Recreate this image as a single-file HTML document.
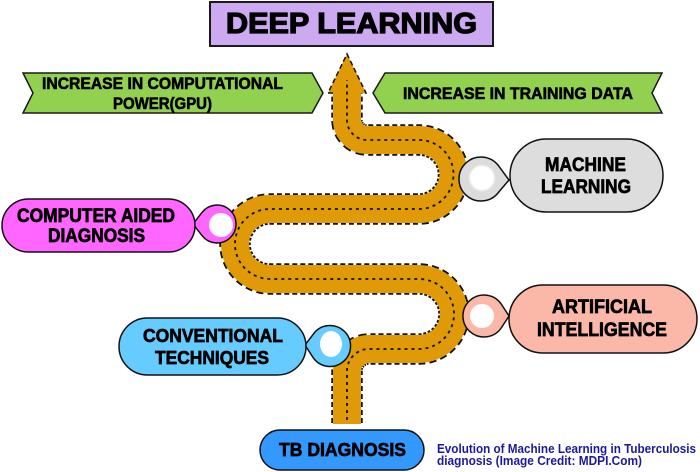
<!DOCTYPE html>
<html>
<head>
<meta charset="utf-8">
<style>
  html,body{margin:0;padding:0;background:#fff;}
  svg{display:block;}
  .t{font-family:"Liberation Sans",Arial,sans-serif;font-weight:bold;fill:#000;stroke:#000;}
</style>
</head>
<body>
<svg width="700" height="472" viewBox="0 0 700 472" xmlns="http://www.w3.org/2000/svg">
  <rect x="0" y="0" width="700" height="472" fill="#fff"/>

  <!-- Title -->
  <rect x="210" y="2" width="283" height="44" fill="#CDA9F2" stroke="#1a1a1a" stroke-width="2"/>
  <text class="t" x="226" y="33" font-size="29" stroke-width="1.3" textLength="251" lengthAdjust="spacingAndGlyphs">DEEP LEARNING</text>

  <!-- Green banners -->
  <polygon points="23,73 312,73 323,93 312,113 23,113 33,93" fill="#92D050" stroke="#1a1a1a" stroke-width="1.5"/>
  <text class="t" x="42" y="89" font-size="16.5" stroke-width="0.6" textLength="241" lengthAdjust="spacingAndGlyphs">INCREASE IN COMPUTATIONAL</text>
  <text class="t" x="113" y="109" font-size="16.5" stroke-width="0.6" textLength="99" lengthAdjust="spacingAndGlyphs">POWER(GPU)</text>

  <polygon points="385,73 662,73 652,93 662,113 385,113 373,93" fill="#92D050" stroke="#1a1a1a" stroke-width="1.5"/>
  <text class="t" x="403" y="99" font-size="16.5" stroke-width="0.6" textLength="230" lengthAdjust="spacingAndGlyphs">INCREASE IN TRAINING DATA</text>

  <!-- Road -->
  <path d="M347,423 L347,371 A22,22 0 0 1 369,349 L419,349 A35,35 0 0 0 419,279 L270,279 A35,35 0 0 1 270,209 L419,209 A34.5,34.5 0 0 0 419,140 L367,140 A20,20 0 0 1 347,120 L347,93"
        fill="none" stroke="#111" stroke-width="31.5" stroke-dasharray="5 3"/>
  <path d="M347,424 L347,371 A22,22 0 0 1 369,349 L419,349 A35,35 0 0 0 419,279 L270,279 A35,35 0 0 1 270,209 L419,209 A34.5,34.5 0 0 0 419,140 L367,140 A20,20 0 0 1 347,120 L347,92"
        fill="none" stroke="#E09A08" stroke-width="28"/>
  <!-- arrow head -->
  <polygon points="328,93 347,54 366,93" fill="#E09A08"/>
  <polyline points="333,93 328,93 347,54 366,93 362,93" fill="none" stroke="#111" stroke-width="1.5" stroke-dasharray="5 3"/>
  <!-- center dashes -->
  <path d="M347,420 L347,371 A22,22 0 0 1 369,349 L419,349 A35,35 0 0 0 419,279 L270,279 A35,35 0 0 1 270,209 L419,209 A34.5,34.5 0 0 0 419,140 L367,140 A20,20 0 0 1 347,120 L347,80"
        fill="none" stroke="#111" stroke-width="1.8" stroke-dasharray="3 4"/>

  <!-- Pins -->
  <path d="M509,180 L498.3,192.6 A22,22 0 1 1 498.3,165.4 Z" fill="#DCDCDC" stroke="#111" stroke-width="1.5"/>
  <circle cx="482" cy="178" r="12.5" fill="#fff" stroke="#eeeeee" stroke-width="1.5"/>

  <path d="M193,224 L202,212.4 A19,19 0 1 1 202,235.6 Z" fill="#FF66FF" stroke="#111" stroke-width="1.5"/>
  <circle cx="221" cy="225" r="12" fill="#fff"/>

  <path d="M509,316 L501.6,327.4 A21,21 0 1 1 501.6,304.6 Z" fill="#FBB8A8" stroke="#111" stroke-width="1.5"/>
  <circle cx="482" cy="316" r="12" fill="#fff"/>

  <path d="M305,345 L313.2,334.3 A20.5,20.5 0 1 1 313.2,357.7 Z" fill="#66CCFF" stroke="#111" stroke-width="1.5"/>
  <ellipse cx="331" cy="344" rx="11" ry="13" fill="#fff"/>

  <!-- Pills -->
  <rect x="510" y="139" width="153" height="73" rx="36.5" fill="#DDDDDD" stroke="#111" stroke-width="1.5"/>
  <text class="t" x="545" y="171" font-size="19" stroke-width="0.7" textLength="81" lengthAdjust="spacingAndGlyphs">MACHINE</text>
  <text class="t" x="541" y="193" font-size="19" stroke-width="0.7" textLength="90" lengthAdjust="spacingAndGlyphs">LEARNING</text>

  <rect x="2" y="199" width="193" height="53" rx="26.5" fill="#FF66FF" stroke="#111" stroke-width="1.5"/>
  <text class="t" x="17" y="222" font-size="19" stroke-width="0.7" textLength="158" lengthAdjust="spacingAndGlyphs">COMPUTER AIDED</text>
  <text class="t" x="48" y="242" font-size="19" stroke-width="0.7" textLength="97" lengthAdjust="spacingAndGlyphs">DIAGNOSIS</text>

  <rect x="509" y="285" width="188" height="68" rx="34" fill="#FBB8A8" stroke="#111" stroke-width="1.5"/>
  <text class="t" x="552" y="313" font-size="19" stroke-width="0.7" textLength="100" lengthAdjust="spacingAndGlyphs">ARTIFICIAL</text>
  <text class="t" x="537" y="336" font-size="19" stroke-width="0.7" textLength="130" lengthAdjust="spacingAndGlyphs">INTELLIGENCE</text>

  <rect x="119" y="318" width="187" height="57" rx="28.5" fill="#66CCFF" stroke="#111" stroke-width="1.5"/>
  <text class="t" x="143" y="342" font-size="18.5" stroke-width="0.7" textLength="140" lengthAdjust="spacingAndGlyphs">CONVENTIONAL</text>
  <text class="t" x="155" y="364" font-size="18.5" stroke-width="0.7" textLength="114" lengthAdjust="spacingAndGlyphs">TECHNIQUES</text>

  <rect x="260" y="430" width="164" height="40" rx="20" fill="#3399FF" stroke="#111" stroke-width="1.5"/>
  <text class="t" x="279" y="456" font-size="18.5" stroke-width="0.7" textLength="127" lengthAdjust="spacingAndGlyphs">TB DIAGNOSIS</text>

  <!-- Caption -->
  <text x="437" y="453" font-family="Liberation Sans, Arial, sans-serif" font-weight="bold" font-size="13" fill="#1a1a9c" textLength="259" lengthAdjust="spacingAndGlyphs">Evolution of Machine Learning in Tuberculosis</text>
  <text x="437" y="465" font-family="Liberation Sans, Arial, sans-serif" font-weight="bold" font-size="13" fill="#1a1a9c" textLength="205" lengthAdjust="spacingAndGlyphs">diagnosis (Image Credit: MDPI.Com)</text>
</svg>
</body>
</html>
